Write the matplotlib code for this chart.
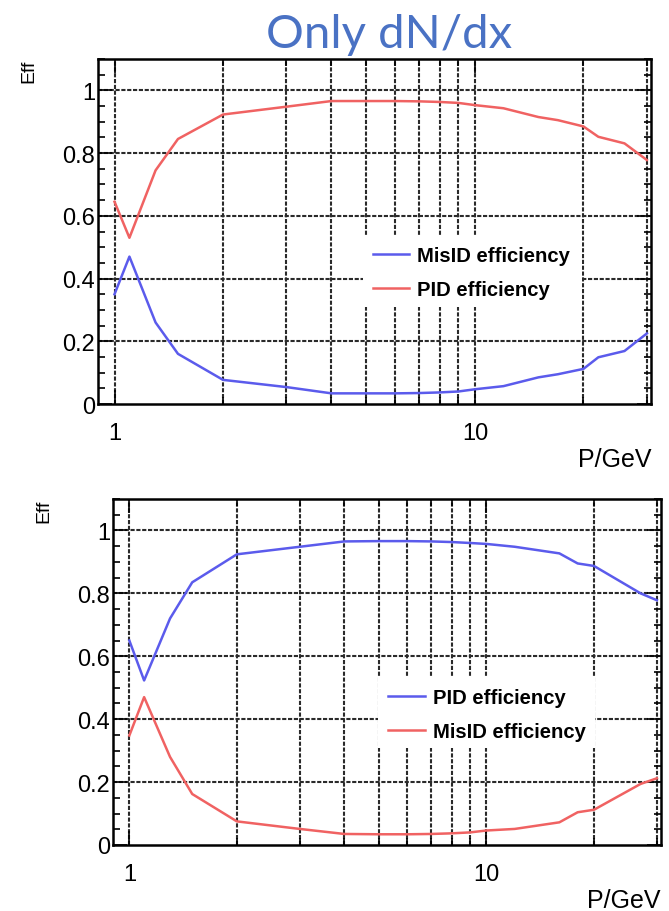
import matplotlib
matplotlib.use("Agg")
import matplotlib.pyplot as plt
from matplotlib.patches import Rectangle
from matplotlib.ticker import FixedLocator, MultipleLocator, NullFormatter

# momentum points (GeV) and efficiencies
p_top = [1, 1.1, 1.3, 1.5, 2, 3, 4, 5, 6, 7, 8, 9, 10, 12, 15, 17, 20, 22, 26, 30]
pid_top = [0.645, 0.53, 0.745, 0.845, 0.923, 0.948, 0.966, 0.966, 0.966, 0.965,
           0.963, 0.96, 0.953, 0.943, 0.915, 0.905, 0.885, 0.852, 0.831, 0.778]
misid_top = [0.35, 0.47, 0.26, 0.16, 0.077, 0.054, 0.034, 0.034, 0.034, 0.035,
             0.037, 0.04, 0.047, 0.057, 0.085, 0.095, 0.112, 0.149, 0.169, 0.225]

p_bot = [1, 1.1, 1.3, 1.5, 2, 3, 4, 5, 6, 7, 8, 9, 10, 12, 16, 18, 20, 27, 30]
pid_bot = [0.65, 0.523, 0.72, 0.835, 0.924, 0.948, 0.965, 0.966, 0.966, 0.965,
           0.963, 0.96, 0.957, 0.948, 0.927, 0.895, 0.887, 0.80, 0.778]
misid_bot = [0.348, 0.47, 0.28, 0.162, 0.075, 0.051, 0.035, 0.034, 0.034, 0.035,
             0.037, 0.04, 0.046, 0.051, 0.072, 0.104, 0.112, 0.194, 0.212]

xgrid = [1, 2, 3, 4, 5, 6, 7, 8, 9, 10, 20, 30]
BLUE = "#5b5bec"
RED = "#f06262"

plt.rcParams["font.family"] = ["Liberation Sans", "DejaVu Sans"]

fig = plt.figure(figsize=(6.69, 9.12), dpi=100)


def panel(rect, x, blue_y, red_y, blue_lab, red_lab, box, leg_anchor):
    ax = fig.add_axes(rect)
    ax.set_xscale("log")
    ax.set_xlim(0.9, 30.8)
    ax.set_ylim(0, 1.1)

    for g in xgrid:
        ax.axvline(g, color="#2a2a2a", lw=1.5, ls=(0, (2, 0.8)), zorder=1)
    for g in [0.2, 0.4, 0.6, 0.8, 1.0]:
        ax.axhline(g, color="#2a2a2a", lw=1.5, ls=(0, (2, 0.8)), zorder=1)

    ax.plot(x, blue_y, color=BLUE, lw=1.8, zorder=3, label=blue_lab)
    ax.plot(x, red_y, color=RED, lw=1.8, zorder=3, label=red_lab)

    # white legend background hiding the grid
    ax.add_patch(Rectangle((box[0], box[1]), box[2], box[3], transform=ax.transAxes,
                           facecolor="white", edgecolor="none", zorder=2))
    leg = ax.legend(loc="center left", bbox_to_anchor=leg_anchor, frameon=False,
                    borderpad=0, borderaxespad=0, handlelength=1.8, handletextpad=0.4,
                    labelspacing=0.75, prop={"weight": "bold", "size": 14.6})
    leg.set_zorder(4)

    ax.xaxis.set_major_locator(FixedLocator([1, 10]))
    ax.xaxis.set_minor_locator(FixedLocator([2, 3, 4, 5, 6, 7, 8, 9, 20, 30]))
    ax.xaxis.set_minor_formatter(NullFormatter())
    ax.set_xticklabels(["1", "10"])
    ax.yaxis.set_major_locator(MultipleLocator(0.2))
    ax.yaxis.set_minor_locator(MultipleLocator(0.05))
    ax.set_yticks([0, 0.2, 0.4, 0.6, 0.8, 1.0])
    ax.set_yticklabels(["0", "0.2", "0.4", "0.6", "0.8", "1"])
    ax.tick_params(which="both", direction="in", top=True, right=True, labelsize=17,
                   width=1.2, colors="black")
    ax.tick_params(which="major", length=10)
    ax.tick_params(which="minor", length=5)
    ax.tick_params(axis="x", pad=13)
    ax.tick_params(axis="y", pad=2)
    for s in ax.spines.values():
        s.set_linewidth(1.8)
    ax.set_ylabel("Eff", fontsize=14, loc="top", labelpad=18)
    ax.set_xlabel("P/GeV", fontsize=18, loc="right", labelpad=2)
    return ax


panel([0.1465, 0.5559, 0.8266, 0.3783], p_top, misid_top, pid_top,
      "MisID efficiency", "PID efficiency",
      (0.479, 0.281, 0.396, 0.206), (0.497, 0.381))
panel([0.1689, 0.0724, 0.8191, 0.3794], p_bot, pid_bot, misid_bot,
      "PID efficiency", "MisID efficiency",
      (0.484, 0.28, 0.396, 0.206), (0.502, 0.377))

fig.text(0.582, 0.962, "Only dN/dx", color="#4a72c4", fontsize=34,
         family=["Lato", "DejaVu Sans"], ha="center", va="center")

fig.savefig("out.png", dpi=100)
